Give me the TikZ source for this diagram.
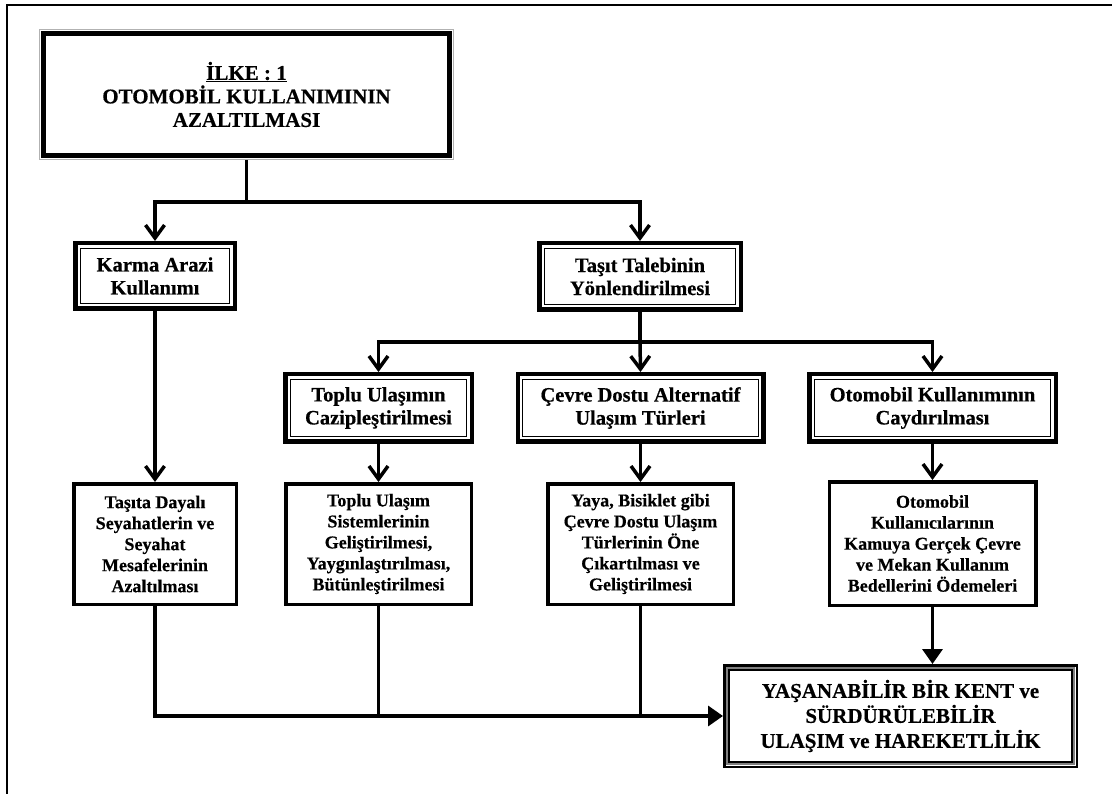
\documentclass[tikz,border=0pt]{standalone}
\usepackage{fontspec}
\setmainfont{Liberation Serif}[BoldFeatures={FakeBold=0.5}]
\usetikzlibrary{arrows.meta}

\begin{document}
\begin{tikzpicture}[x=1pt,y=-1pt,
  % top principle box: thin grey outline around a heavy black frame
  topbox/.style={draw=gray!60, line width=1pt, inner sep=0pt, align=center,
    font=\bfseries\fontsize{21}{23.5}\selectfont,
    path picture={\draw[black, line width=5pt]
      ([shift={(4pt,-4pt)}]path picture bounding box.north west) rectangle
      ([shift={(-4pt,4pt)}]path picture bounding box.south east);}},
  % heading boxes: heavy frame with a thin inner line
  midbox/.style={draw, line width=4.5pt, inner sep=0pt, align=center,
    font=\bfseries\fontsize{20.5}{23}\selectfont,
    path picture={\draw[black, line width=1pt]
      ([shift={(5pt,-5pt)}]path picture bounding box.north west) rectangle
      ([shift={(-5pt,5pt)}]path picture bounding box.south east);}},
  % measure boxes: single frame
  lowbox/.style={draw, line width=3.5pt, inner sep=0pt, align=center,
    font=\bfseries\fontsize{18}{21}\selectfont},
  % goal box: triple frame
  goalbox/.style={draw, line width=2.5pt, inner sep=0pt, align=center,
    font=\bfseries\fontsize{21}{25}\selectfont,
    path picture={
      \draw[gray, line width=1.5pt]
        ([shift={(2.8pt,-2.8pt)}]path picture bounding box.north west) rectangle
        ([shift={(-2.8pt,2.8pt)}]path picture bounding box.south east);
      \draw[black, line width=1.5pt]
        ([shift={(4.8pt,-4.8pt)}]path picture bounding box.north west) rectangle
        ([shift={(-4.8pt,4.8pt)}]path picture bounding box.south east);}},
  conn/.style={line width=3.5pt},
  openarrow/.style={-{Straight Barb[length=13pt,width=19pt]}},
  solidarrow/.style={-{Triangle[length=15pt,width=20pt]}}
]
\useasboundingbox (0,0) rectangle (1112,794);

% page frame
\draw[line width=2.5pt] (7,794) -- (7,5) -- (1112,5);

% principle
\node[topbox, minimum width=414pt, minimum height=130pt] (top) at (246.5,94.5)
  {\underline{İLKE : 1}\\OTOMOBİL KULLANIMININ\\AZALTILMASI};

% first level
\node[midbox, minimum width=159.5pt, minimum height=65.5pt] (karma) at (155,276)
  {Karma Arazi\\Kullanımı};
\node[midbox, minimum width=201.5pt, minimum height=66.5pt] (talep) at (640,276.5)
  {Taşıt Talebinin\\Yönlendirilmesi};

% second level
\node[midbox, minimum width=186.5pt, minimum height=67.5pt] (toplu) at (378.5,408)
  {Toplu Ulaşımın\\Cazipleştirilmesi};
\node[midbox, minimum width=245.5pt, minimum height=67.5pt] (cevre) at (640.5,408)
  {Çevre Dostu Alternatif\\Ulaşım Türleri};
\node[midbox, minimum width=246.5pt, minimum height=67.5pt] (okul) at (932.5,408)
  {Otomobil Kullanımının\\Caydırılması};

% measures
\node[lowbox, minimum width=162.5pt, minimum height=120.5pt] (tasita) at (155,544)
  {Taşıta Dayalı\\Seyahatlerin ve\\Seyahat\\Mesafelerinin\\Azaltılması};
\node[lowbox, minimum width=185.5pt, minimum height=120.5pt] (sistem) at (378.5,544)
  {Toplu Ulaşım\\Sistemlerinin\\Geliştirilmesi,\\Yaygınlaştırılması,\\Bütünleştirilmesi};
\node[lowbox, minimum width=185.5pt, minimum height=120.5pt] (yaya) at (640.5,544)
  {Yaya, Bisiklet gibi\\Çevre Dostu Ulaşım\\Türlerinin Öne\\Çıkartılması ve\\Geliştirilmesi};
\node[lowbox, minimum width=206.5pt, minimum height=123.5pt] (okull) at (932.5,543.5)
  {Otomobil\\Kullanıcılarının\\Kamuya Gerçek Çevre\\ve Mekan Kullanım\\Bedellerini Ödemeleri};

% goal
\node[goalbox, minimum width=352.5pt, minimum height=101.5pt] (goal) at (900.5,716)
  {YAŞANABİLİR BİR KENT ve\\SÜRDÜRÜLEBİLİR\\ULAŞIM ve HAREKETLİLİK};

% branching from the principle
\coordinate (j1) at (246.5,202);
\draw[conn] (top.south) -- (j1);
\draw[conn, openarrow] (j1) -| (karma.north);
\draw[conn, openarrow] (j1) -| (talep.north);

% branching from demand management
\coordinate (j2) at (640,342);
\draw[conn] (talep.south) -- (j2);
\draw[conn, openarrow] (j2) -| (toplu.north);
\draw[conn, openarrow] (j2) -- (cevre.north);
\draw[conn, openarrow] (j2) -| (okul.north);

% headings to measures
\draw[conn, openarrow] (karma.south) -- (tasita.north);
\draw[conn, openarrow] (toplu.south) -- (sistem.north);
\draw[conn, openarrow] (cevre.south) -- (yaya.north);
\draw[conn, openarrow] (okul.south) -- (okull.north);

% measures to goal
\draw[conn, solidarrow] (tasita.south) |- (goal.west);
\draw[conn] (sistem.south) -- (sistem.south |- goal.west);
\draw[conn] (yaya.south) -- (yaya.south |- goal.west);
\draw[conn, solidarrow] (okull.south) -- (okull.south |- goal.north);
\end{tikzpicture}
\end{document}
